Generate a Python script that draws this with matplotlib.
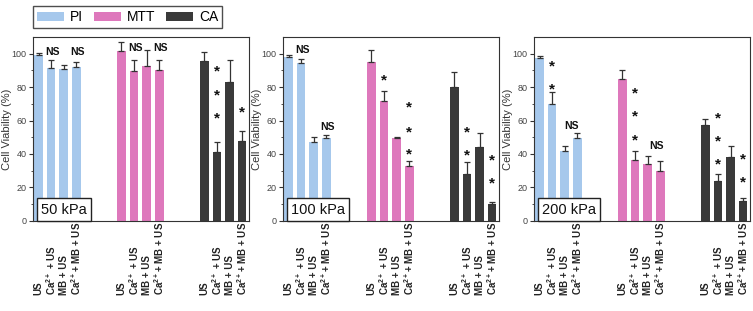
import matplotlib
matplotlib.use("Agg")
import matplotlib.pyplot as plt
from matplotlib.patches import Patch
from matplotlib.transforms import offset_copy
import numpy as np

plt.rcParams['font.family'] = ['Liberation Sans', 'DejaVu Sans']
plt.rcParams['mathtext.fontset'] = 'custom'
plt.rcParams['mathtext.rm'] = 'Liberation Sans'
plt.rcParams['mathtext.bf'] = 'Liberation Sans:bold'

# ---------------- data ----------------
assays = ["PI", "MTT", "CA"]
colors = ["#a6c8ec", "#de78bc", "#3a3a3a"]
pressures = ["50 kPa", "100 kPa", "200 kPa"]
tick_labels = ["US", r"Ca$^{\mathbf{2+}}$ + US", "MB + US", r"Ca$^{\mathbf{2+}}$+ MB + US"]

# values per pressure, per assay (4 conditions each)
pi_50 = [99.5, 91.6, 91.0, 91.8]
pi_50_err = [0.8, 4.6, 2.0, 3.4]
mtt_50 = [101.8, 89.8, 92.6, 90.2]
mtt_50_err = [5.4, 6.4, 9.6, 6.0]
ca_50 = [95.6, 41.2, 83.2, 47.8]
ca_50_err = [5.4, 5.8, 13.2, 6.0]

pi_100 = [98.0, 94.4, 47.0, 49.4]
pi_100_err = [1.0, 2.4, 3.0, 1.8]
mtt_100 = [94.8, 71.8, 49.4, 33.0]
mtt_100_err = [7.6, 5.6, 0.6, 3.0]
ca_100 = [79.8, 28.2, 44.4, 10.0]
ca_100_err = [9.0, 6.8, 8.0, 1.4]

pi_200 = [97.2, 70.0, 42.0, 49.8]
pi_200_err = [1.2, 7.0, 2.6, 2.6]
mtt_200 = [85.0, 36.6, 34.2, 29.6]
mtt_200_err = [5.2, 5.0, 4.8, 6.0]
ca_200 = [57.2, 23.8, 38.0, 11.8]
ca_200_err = [3.6, 4.2, 7.0, 2.0]

# annotations: (text, assay index, bar position within group, y value)
ann_50 = [("NS", 0, 1, 101.4), ("NS", 0, 3, 101.4),
          ("NS", 1, 1, 103.8), ("NS", 1, 3, 103.8),
          ("*", 2, 1, 92.4), ("*", 2, 1, 78.4), ("*", 2, 1, 64.4),
          ("*", 2, 3, 68.0)]
ann_100 = [("NS", 0, 1, 102.8), ("NS", 0, 3, 56.4),
           ("*", 1, 1, 87.0),
           ("*", 1, 3, 70.8), ("*", 1, 3, 56.4), ("*", 1, 3, 42.8),
           ("*", 2, 1, 56.0), ("*", 2, 1, 42.4),
           ("*", 2, 3, 39.4), ("*", 2, 3, 25.6)]
ann_200 = [("*", 0, 1, 95.4), ("*", 0, 1, 81.8), ("NS", 0, 2.4, 57.0),
           ("*", 1, 1, 79.4), ("*", 1, 1, 65.4), ("*", 1, 1, 51.4),
           ("NS", 1, 2.6, 45.0),
           ("*", 2, 1, 64.4), ("*", 2, 1, 50.8), ("*", 2, 1, 37.0),
           ("*", 2, 3, 40.0), ("*", 2, 3, 26.0)]

panels = [
    (pressures[0], [pi_50, mtt_50, ca_50], [pi_50_err, mtt_50_err, ca_50_err], ann_50),
    (pressures[1], [pi_100, mtt_100, ca_100], [pi_100_err, mtt_100_err, ca_100_err], ann_100),
    (pressures[2], [pi_200, mtt_200, ca_200], [pi_200_err, mtt_200_err, ca_200_err], ann_200),
]

group_offsets = [0.0, 6.6, 13.2]
bar_w = 0.7

# ---------------- figure ----------------
W, H = 753, 311
fig = plt.figure(figsize=(W / 100, H / 100), dpi=100)
lefts = [33, 283, 534]
ax_w = 216
ax_bottom_px, ax_top_px = 220.7, 37

axes = []
for left in lefts:
    ax = fig.add_axes([left / W, 1 - ax_bottom_px / H, ax_w / W, (ax_bottom_px - ax_top_px) / H])
    axes.append(ax)

dark = "#333333"
for i, (ax, (pname, vals, errs, anns)) in enumerate(zip(axes, panels)):
    all_pos = []
    all_lab = []
    for g, (v, e, c) in enumerate(zip(vals, errs, colors)):
        pos = np.arange(4) + group_offsets[g]
        ax.bar(pos, v, width=bar_w, color=c, zorder=2)
        ax.errorbar(pos, v, yerr=[np.zeros(4), e], fmt='none', ecolor=dark,
                    elinewidth=0.9, capsize=2.4, capthick=0.9, zorder=3)
        all_pos.extend(pos)
        all_lab.extend(tick_labels)
    for txt, g, b, y in anns:
        x = group_offsets[g] + b
        if txt == "*":
            fs = 11
            tr = offset_copy(ax.transData, fig=fig, x=0, y=-0.62 * fs, units='points')
            ax.text(x, y, txt, fontsize=fs, fontweight='bold', ha='center', va='baseline',
                    transform=tr, color='#111111', zorder=4)
        else:
            fs = 7.5
            tr = offset_copy(ax.transData, fig=fig, x=1.2, y=-0.36 * fs, units='points')
            ax.text(x, y, txt, fontsize=fs, fontweight='bold', ha='center', va='baseline',
                    transform=tr, color='#111111', zorder=4)

    ax.set_xlim(-0.44, 16.75)
    ax.set_ylim(0, 110)
    ax.set_yticks([0, 20, 40, 60, 80, 100])
    ax.set_yticks(np.arange(10, 110, 20), minor=True)
    ax.tick_params(axis='y', which='major', direction='out', length=3, width=0.8,
                   colors=dark, labelsize=6.5, pad=1.5, labelcolor='#444444')
    ax.tick_params(axis='y', which='minor', direction='out', length=1.5, width=0.6, colors=dark)
    ax.set_xticks(all_pos, labels=all_lab, rotation=90, va='bottom', ha='center',
                  fontweight='bold', fontsize=7)
    ax.tick_params(axis='x', length=0, pad=53.5, colors='#222222')
    for sp in ax.spines.values():
        sp.set_color(dark)
        sp.set_linewidth(0.8)
    ax.set_ylabel("Cell Viability (%)", fontsize=8, color='#333333', labelpad=0)
    ax.text(8 / ax_w, (ax_bottom_px - 213.5) / (ax_bottom_px - ax_top_px), pname,
            transform=ax.transAxes, fontsize=10.5, ha='left', va='baseline', color='#111111',
            bbox=dict(boxstyle='square,pad=0.3', fc='white', ec='#222222', lw=1.0), zorder=5)

handles = [Patch(facecolor=c) for c in colors]
leg = fig.legend(handles, assays, loc='upper left', bbox_to_anchor=(33 / W, 1 - 6 / H),
                 ncol=3, fontsize=10, frameon=True, fancybox=False, edgecolor='#222222',
                 handlelength=1.95, handleheight=0.6, columnspacing=0.8,
                 handletextpad=0.4, borderpad=0.3, borderaxespad=0)
leg.get_frame().set_linewidth(1.0)

fig.savefig("out.png", dpi=100)
